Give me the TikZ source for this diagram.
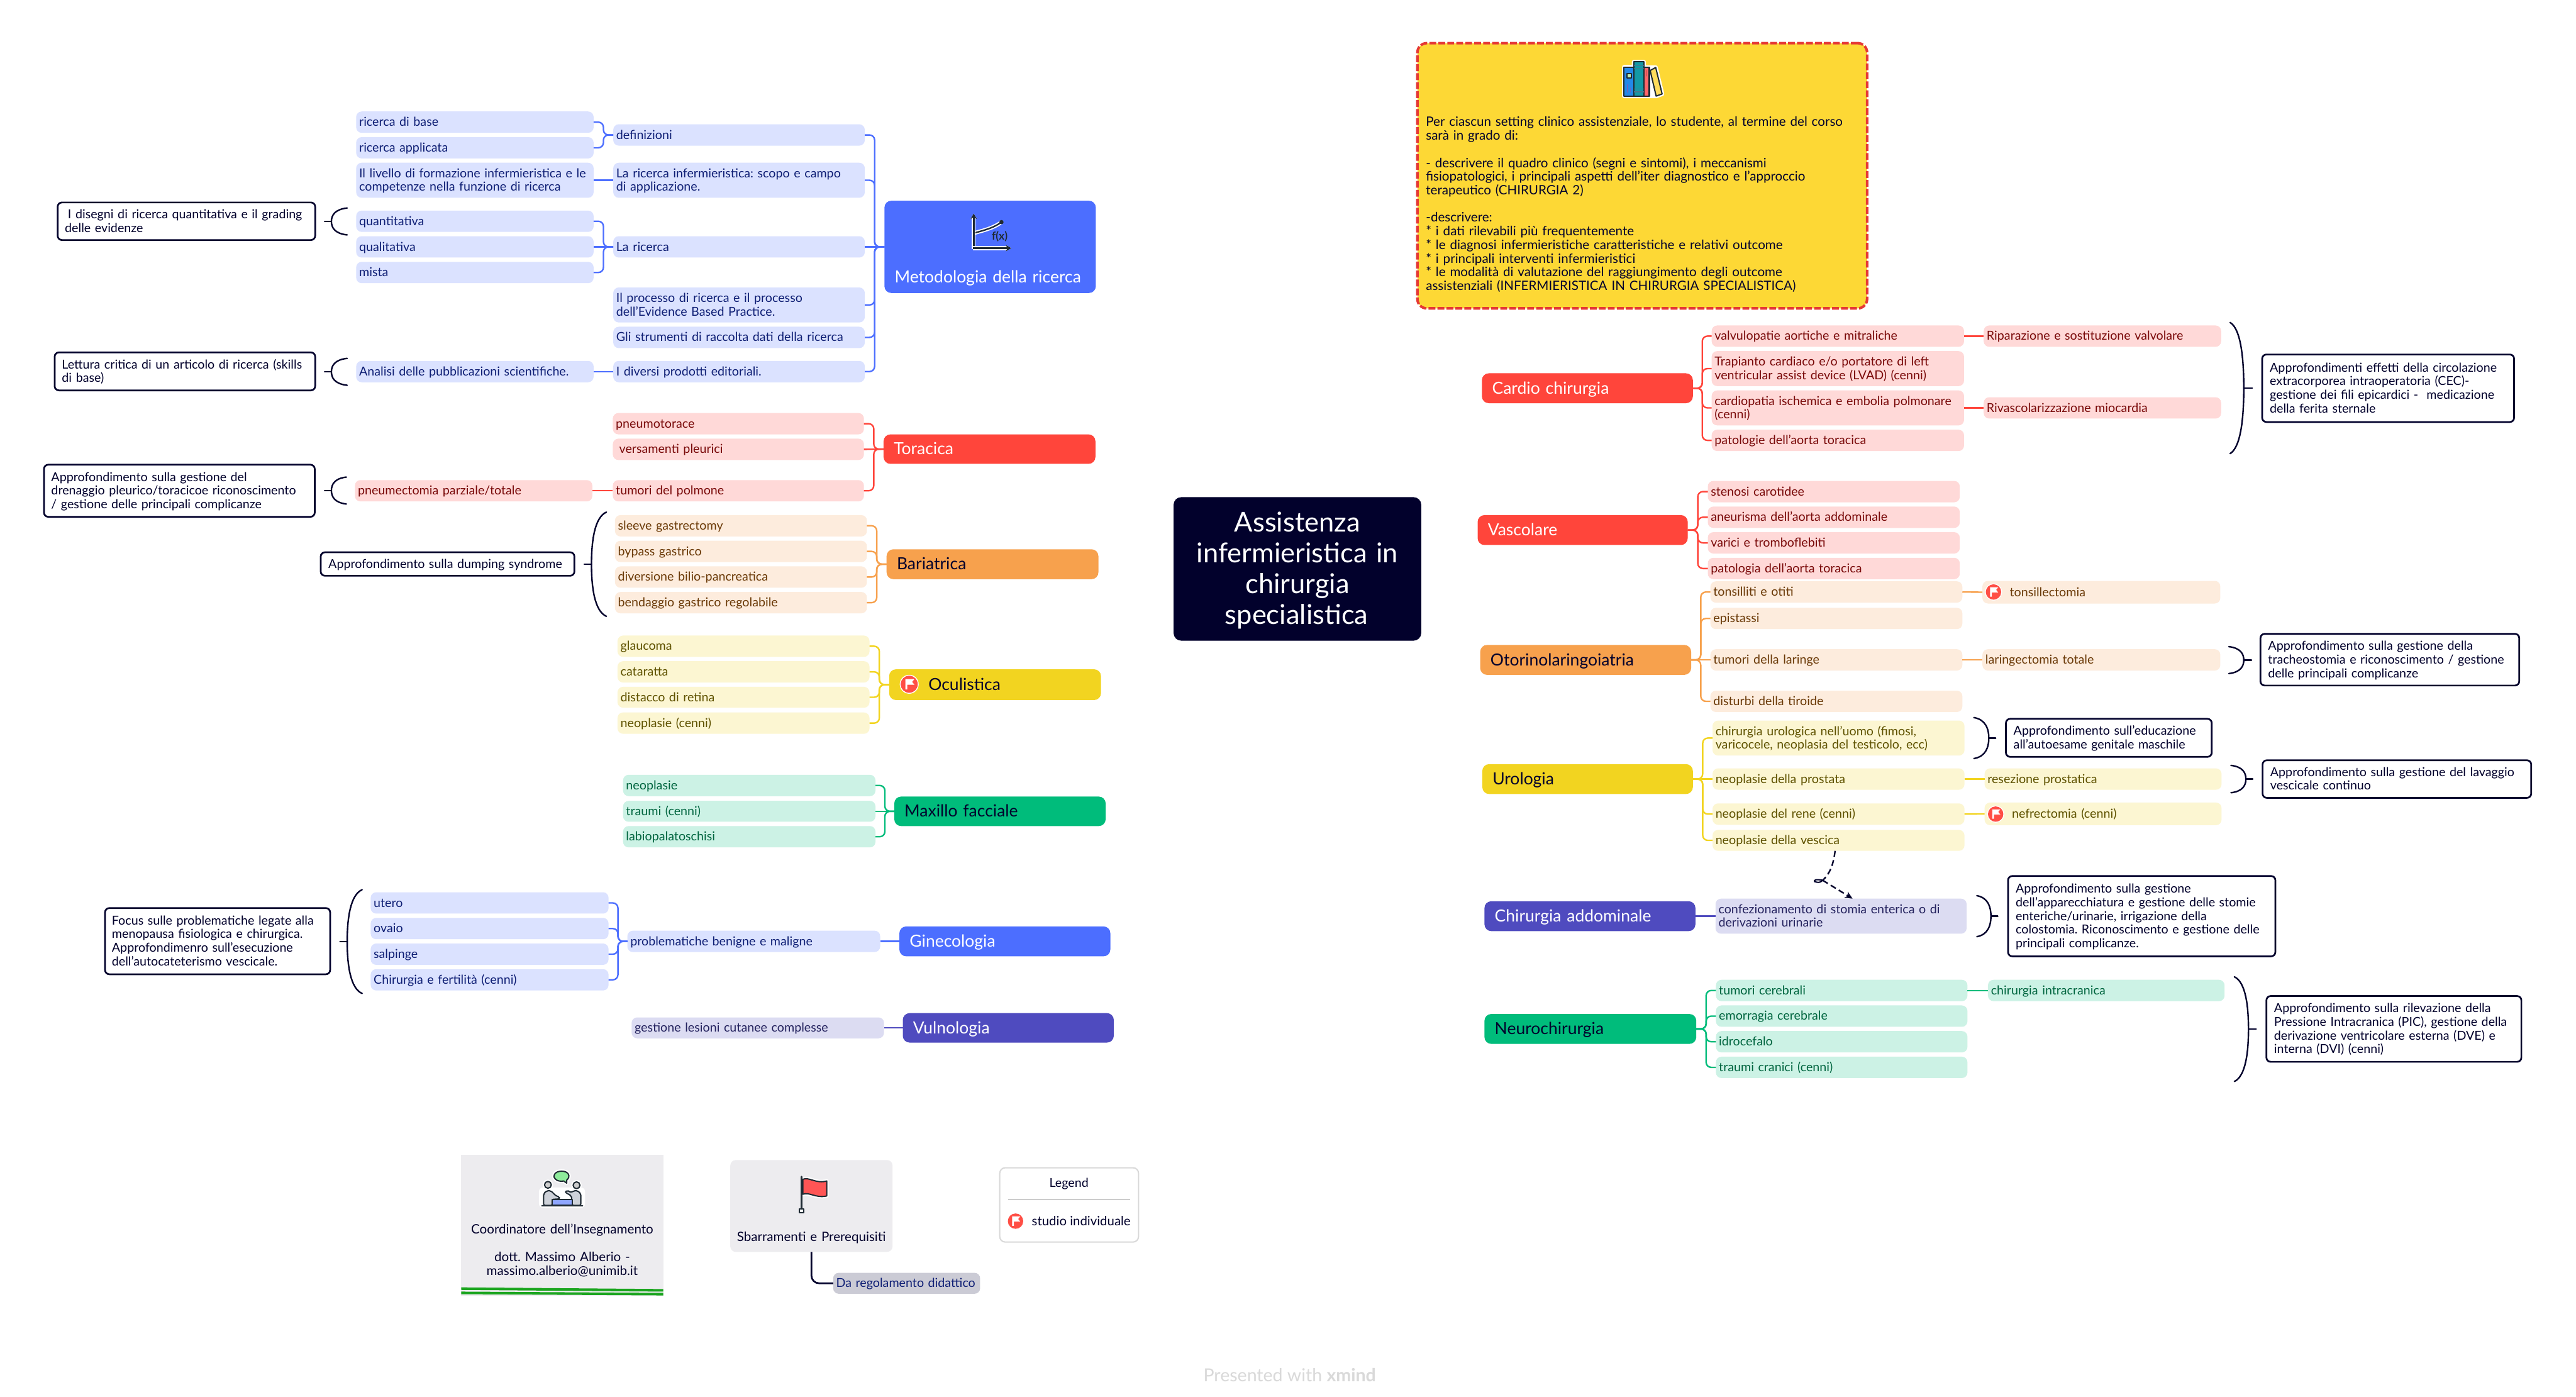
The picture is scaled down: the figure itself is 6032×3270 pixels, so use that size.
\documentclass[tikz,border=0pt]{standalone}
\usepackage{fontspec}
\setmainfont{Lato}
\usetikzlibrary{calc,arrows.meta}
\pgfdeclarelayer{bg}\pgfsetlayers{bg,main}
\definecolor{cBlue}{HTML}{4C6EFF}\definecolor{lBlue}{HTML}{DBE2FF}\definecolor{tBlue}{HTML}{0F1F75}
\definecolor{cRed}{HTML}{FF453B}\definecolor{lRed}{HTML}{FFD9D8}\definecolor{tRed}{HTML}{7A0A0A}
\definecolor{cOra}{HTML}{F7A14D}\definecolor{lOra}{HTML}{FDECDD}\definecolor{tOra}{HTML}{6B3A08}
\definecolor{cYel}{HTML}{F2D420}\definecolor{lYel}{HTML}{FCF6D2}\definecolor{tYel}{HTML}{5F5200}
\definecolor{cGre}{HTML}{00BC7B}\definecolor{lGre}{HTML}{CCF2E5}\definecolor{tGre}{HTML}{00653F}
\definecolor{cInd}{HTML}{4F4BBF}\definecolor{lInd}{HTML}{DCDCF2}\definecolor{tInd}{HTML}{25235F}
\definecolor{navy}{HTML}{02012C}\definecolor{goldbg}{HTML}{FDD835}\definecolor{dashred}{HTML}{E53935}
\definecolor{greybg}{HTML}{EDECEF}\definecolor{icdark}{HTML}{1F2A33}\definecolor{stripe}{HTML}{1BA51F}
\definecolor{dargrey}{HTML}{CBCBD5}
\newcommand{\fs}[2]{\fontsize{#1}{#2}\selectfont\frenchspacing}
\newcommand{\mystrut}{\rule[-.2\baselineskip]{0pt}{\baselineskip}}
\tikzset{
 basen/.style={rounded corners=13pt,align=left,outer sep=0pt,font=\fs{29}{32}},
 sB/.style={basen,fill=lBlue,text=tBlue},sR/.style={basen,fill=lRed,text=tRed},
 sO/.style={basen,fill=lOra,text=tOra},sY/.style={basen,fill=lYel,text=tYel},
 sG/.style={basen,fill=lGre,text=tGre},sI/.style={basen,fill=lInd,text=tInd},
 branch/.style={rounded corners=16pt,align=left,outer sep=0pt,font=\fs{39}{44}},
 bB/.style={branch,fill=cBlue,text=white},bR/.style={branch,fill=cRed,text=white},
 bO/.style={branch,fill=cOra,text=navy},bY/.style={branch,fill=cYel,text=navy},
 bG/.style={branch,fill=cGre,text=navy},bI/.style={branch,fill=cInd,text=white},
 callout/.style={basen,rounded corners=10pt,fill=white,draw=navy,line width=4pt,text=navy},
 cnline/.style={line width=3.5pt,rounded corners=12pt},
 mainline/.style={line width=5.5pt},
 bracest/.style={navy,line width=3.5pt,line cap=round},
 icline/.style={icdark,line width=3pt,line join=round},
 halo/.style={preaction={draw=white,line width=9pt,line join=round}},
}
\newcommand{\ndn}[8][7]{%
 \pgfmathsetmacro\ndw{#6-#4}\pgfmathsetmacro\ndh{#7-#5}%
 \pgfmathsetmacro\ndt{#6-#4-2*#1}%
 \pgfmathsetmacro\ndx{(#4+#6)/2}\pgfmathsetmacro\ndy{(#5+#7)/2}%
 \node[#3,inner xsep=#1pt,inner ysep=0pt,minimum width=\ndw pt,minimum height=\ndh pt,text width=\ndt pt] (#2) at (\ndx,\ndy) {\mystrut #8\mystrut};%
}
\newcommand{\cn}[3]{%
 \path let \p1=(#2),\p2=(#3) in \pgfextra{\pgfmathsetmacro\cndy{abs(\y1-\y2)}\xdef\cnd{\cndy}};%
 \ifdim\cnd pt<2pt\relax
  \draw[#1,line width=3.5pt] (#2) -- (#3);%
 \else
  \path coordinate (mm) at ($(#2)!.5!(#3)$);\draw[#1,cnline] (#2) -- (mm|-#2) -- (mm|-#3) -- (#3);%
 \fi}
\newcommand{\mainc}[5]{\begin{pgfonlayer}{bg}\draw[#1,mainline] (#2) .. controls #3 and #4 .. ([shift={#5}]root.center);\end{pgfonlayer}}
\newcommand{\sbrace}[5]{%
 \pgfmathsetmacro\bmid{(#4+#5)/2}\pgfmathsetmacro\bh{#5-#4}%
 \pgfmathsetmacro\bcx{#2-0.2*(#2-#1)}\pgfmathsetmacro\bya{#4+0.05*\bh}\pgfmathsetmacro\byb{#4+0.28*\bh}%
 \pgfmathsetmacro\byc{#5-0.28*\bh}\pgfmathsetmacro\byd{#5-0.05*\bh}%
 \draw[bracest] (#1,#4) .. controls (\bcx,\bya) and (#2,\byb) .. (#2,\bmid) .. controls (#2,\byc) and (\bcx,\byd) .. (#1,#5);
 \draw[bracest] (#2,\bmid) -- (#3,\bmid);}
\newcommand{\flagic}[3]{%
 \begin{scope}[shift={(#1,#2)},scale=#3/18]
 \fill[white] (0,0) circle (20);\fill[cRed!95!white] (0,0) circle (18);
 \fill[white] (-8,-11) -- (11,-11) -- (6,-5) -- (11,1) -- (-4,1) -- (-4,11) -- (-8,11) -- cycle;
 \end{scope}}
\begin{document}
\begin{tikzpicture}[x=1pt,y=-1pt]
\useasboundingbox (0,0) rectangle (6032,3270);
\fill[white] (0,0) rectangle (6032,3270);
% ROOT
\ndn{root}{rounded corners=18pt,fill=navy,text=white,align=center,font=\fs{64}{72},outer sep=0pt}{2748}{1164}{3328}{1500}{Assistenza\hspace*{12pt}\\infermieristica in\hspace*{12pt}\\chirurgia\hspace*{12pt}\\specialistica\hspace*{4pt}}
% BRANCHES
\ndn[24]{met}{bB}{2071}{470}{2566}{686}{\rule{0pt}{176pt}Metodologia della ricerca}
\ndn[24]{tor}{bR}{2069}{1017}{2565}{1086}{Toracica}
\ndn[24]{bar}{bO}{2076}{1286}{2572}{1356}{Bariatrica}
\ndn[92]{ocu}{bY}{2082}{1567}{2578}{1639}{Oculistica}
\ndn[24]{max}{bG}{2094}{1865}{2589}{1934}{Maxillo facciale}
\ndn[24]{gin}{bB}{2106}{2169}{2600}{2239}{Ginecologia}
\ndn[24]{vul}{bI}{2114}{2372}{2608}{2441}{Vulnologia}
\ndn[24]{car}{bR}{3470}{874}{3964}{944}{Cardio chirurgia}
\ndn[24]{vas}{bR}{3460}{1206}{3952}{1276}{Vascolare}
\ndn[24]{oto}{bO}{3466}{1510}{3960}{1580}{Otorinolaringoiatria}
\ndn[24]{uro}{bY}{3471}{1789}{3964}{1859}{Urologia}
\ndn[24]{chi}{bI}{3476}{2110}{3970}{2180}{Chirurgia addominale}
\ndn[24]{neu}{bG}{3476}{2374}{3972}{2444}{Neurochirurgia}
% MAIN CURVES
\mainc{cBlue}{met.east}{(2760,578)}{(2925,830)}{(-53,-132)}
\mainc{cRed}{tor.east}{(2680,1052)}{(2800,1110)}{(-158,-122)}
\mainc{cOra}{bar.east}{(2640,1320)}{(2700,1323)}{(-268,-9)}
\mainc{cYel}{ocu.east}{(2700,1602)}{(2800,1550)}{(-178,143)}
\mainc{cGre}{max.east}{(2791,1899)}{(2925,1700)}{(-73,148)}
\mainc{cBlue}{gin.east}{(2821,2204)}{(2951,1850)}{(-42,148)}
\mainc{cInd}{vul.east}{(2830,2406)}{(2960,1950)}{(-33,148)}
\mainc{cRed}{car.west}{(3320,908)}{(3190,1020)}{(97,-132)}
\mainc{cRed}{vas.west}{(3400,1241)}{(3350,1248)}{(262,-67)}
\mainc{cOra}{oto.west}{(3390,1544)}{(3330,1525)}{(252,153)}
\mainc{cYel}{uro.west}{(3310,1823)}{(3175,1680)}{(82,148)}
\mainc{cInd}{chi.west}{(3270,2145)}{(3135,1830)}{(47,148)}
\mainc{cGre}{neu.west}{(3260,2408)}{(3118,1990)}{(34,148)}
% METODOLOGIA
\ndn{def}{sB}{1436}{291}{2025}{341}{definizioni}
\ndn{ribase}{sB}{834}{261}{1390}{311}{ricerca di base}
\ndn{riappl}{sB}{834}{321}{1390}{371}{ricerca applicata}
\ndn{riinf}{sB}{1436}{381}{2025}{463}{La ricerca infermieristica: scopo e campo\\di applicazione.}
\ndn{livello}{sB}{834}{381}{1390}{463}{Il livello di formazione infermieristica e le\\competenze nella funzione di ricerca}
\ndn{quant}{sB}{834}{493}{1390}{543}{quantitativa}
\ndn{qual}{sB}{834}{553}{1390}{603}{qualitativa}
\ndn{mista}{sB}{834}{613}{1390}{663}{mista}
\ndn{laric}{sB}{1436}{553}{2025}{603}{La ricerca}
\ndn{proc}{sB}{1436}{673}{2025}{755}{Il processo di ricerca e il processo\\dell'Evidence Based Practice.}
\ndn{strum}{sB}{1436}{765}{2025}{815}{Gli strumenti di raccolta dati della ricerca}
\ndn{divers}{sB}{1436}{845}{2025}{895}{I diversi prodotti editoriali.}
\ndn{analisi}{sB}{834}{845}{1390}{895}{Analisi delle pubblicazioni scientifiche.}
\foreach \c in {def,riinf,laric,proc,strum,divers}{\cn{cBlue}{met.west}{\c.east}}
\foreach \c in {ribase,riappl}{\cn{cBlue}{def.west}{\c.east}}
\cn{cBlue}{riinf.west}{livello.east}
\foreach \c in {quant,qual,mista}{\cn{cBlue}{laric.west}{\c.east}}
\cn{cBlue}{divers.west}{analisi.east}
\ndn[17]{co1}{callout}{135}{474}{738}{562}{\hspace{7pt}I disegni di ricerca quantitativa e il grading\\delle evidenze}
\sbrace{813}{776}{760}{487}{550}
\ndn[17]{co2}{callout}{128}{825}{738}{914}{Lettura critica di un articolo di ricerca (skills\\di base)}
\sbrace{813}{776}{760}{839}{902}
% TORACICA
\ndn{pneu}{sR}{1435}{967}{2023}{1017}{pneumotorace}
\ndn{vers}{sR}{1435}{1027}{2023}{1077}{\hspace{8pt}versamenti pleurici}
\ndn{tumpol}{sR}{1435}{1124}{2023}{1174}{tumori del polmone}
\ndn{pnect}{sR}{831}{1124}{1387}{1174}{pneumectomia parziale/totale}
\foreach \c in {pneu,vers,tumpol}{\cn{cRed}{tor.west}{\c.east}}
\cn{cRed}{tumpol.west}{pnect.east}
\ndn[17]{co3}{callout}{103}{1088}{737}{1210}{Approfondimento sulla gestione del\\drenaggio pleurico/toracicoe riconoscimento\\/ gestione delle principali complicanze}
\sbrace{811}{776}{760}{1117}{1180}
% BARIATRICA
\ndn{sle}{sO}{1440}{1206}{2030}{1256}{sleeve gastrectomy}
\ndn{byp}{sO}{1440}{1266}{2030}{1316}{bypass gastrico}
\ndn{div}{sO}{1440}{1326}{2030}{1376}{diversione bilio-pancreatica}
\ndn{ben}{sO}{1440}{1386}{2030}{1436}{bendaggio gastrico regolabile}
\foreach \c in {sle,byp,div,ben}{\cn{cOra}{bar.west}{\c.east}}
\ndn[18]{co4}{callout}{751}{1293}{1345}{1348}{Approfondimento sulla dumping syndrome}
\sbrace{1420}{1385}{1368}{1199}{1443}
% OCULISTICA
\ndn{gla}{sY}{1446}{1488}{2036}{1538}{glaucoma}
\ndn{cat}{sY}{1446}{1548}{2036}{1598}{cataratta}
\ndn{dis}{sY}{1446}{1608}{2036}{1657}{distacco di retina}
\ndn{neo}{sY}{1446}{1668}{2036}{1718}{neoplasie (cenni)}
\foreach \c in {gla,cat,dis,neo}{\cn{cYel}{ocu.west}{\c.east}}
\flagic{2129}{1602}{20}
% MAXILLO
\ndn{mneo}{sG}{1459}{1814}{2050}{1864}{neoplasie}
\ndn{mtra}{sG}{1459}{1875}{2050}{1924}{traumi (cenni)}
\ndn{mlab}{sG}{1459}{1934}{2050}{1984}{labiopalatoschisi}
\foreach \c in {mneo,mtra,mlab}{\cn{cGre}{max.west}{\c.east}}
% GINECOLOGIA
\ndn{prob}{sB}{1469}{2179}{2061}{2229}{problematiche benigne e maligne}
\ndn{ute}{sB}{868}{2089}{1425}{2139}{utero}
\ndn{ova}{sB}{868}{2149}{1425}{2199}{ovaio}
\ndn{sal}{sB}{868}{2209}{1425}{2259}{salpinge}
\ndn{cfe}{sB}{868}{2269}{1425}{2319}{Chirurgia e fertilità (cenni)}
\cn{cBlue}{gin.west}{prob.east}
\foreach \c in {ute,ova,sal,cfe}{\cn{cBlue}{prob.west}{\c.east}}
\ndn[16]{co5}{callout}{246}{2126}{773}{2281}{Focus sulle problematiche legate alla\\menopausa fisiologica e chirurgica.\\Approfondimenro sull'esecuzione\\dell'autocateterismo vescicale.}
\sbrace{848}{813}{796}{2083}{2326}
% VULNOLOGIA
\ndn{ges}{sI}{1479}{2382}{2070}{2431}{gestione lesioni cutanee complesse}
\cn{cInd}{vul.west}{ges.east}
% CARDIO
\ndn{val}{sR}{4008}{762}{4599}{812}{valvulopatie aortiche e mitraliche}
\ndn{tra}{sR}{4008}{822}{4599}{904}{Trapianto cardiaco e/o portatore di left\\ventricular assist device (LVAD) (cenni)}
\ndn{cap}{sR}{4008}{914}{4599}{996}{cardiopatia ischemica e embolia polmonare\\(cenni)}
\ndn{pat}{sR}{4008}{1006}{4599}{1056}{patologie dell'aorta toracica}
\ndn{rip}{sR}{4645}{762}{5201}{812}{Riparazione e sostituzione valvolare}
\ndn{riv}{sR}{4645}{930}{5201}{980}{Rivascolarizzazione miocardia}
\foreach \c in {val,tra,cap,pat}{\cn{cRed}{car.east}{\c.west}}
\cn{cRed}{val.east}{rip.west}
\cn{cRed}{cap.east}{riv.west}
\sbrace{5222}{5254}{5274}{755}{1062}
\ndn[18]{co6}{callout}{5297}{830}{5887}{988}{Approfondimenti effetti della circolazione\\extracorporea intraoperatoria (CEC)-\\gestione dei fili epicardici -\ \ medicazione\\della ferita sternale}
% VASCOLARE
\ndn{ste}{sR}{3999}{1126}{4589}{1176}{stenosi carotidee}
\ndn{ane}{sR}{3999}{1186}{4589}{1236}{aneurisma dell'aorta addominale}
\ndn{vari}{sR}{3999}{1246}{4589}{1296}{varici e tromboflebiti}
\ndn{paa}{sR}{3999}{1306}{4589}{1356}{patologia dell'aorta toracica}
\foreach \c in {ste,ane,vari,paa}{\cn{cRed}{vas.east}{\c.west}}
% OTORINO
\ndn{ton}{sO}{4005}{1361}{4595}{1411}{tonsilliti e otiti}
\ndn{epi}{sO}{4005}{1423}{4595}{1473}{epistassi}
\ndn{tla}{sO}{4005}{1520}{4595}{1570}{tumori della laringe}
\ndn{dti}{sO}{4005}{1617}{4595}{1667}{disturbi della tiroide}
\ndn[64]{tec}{sO}{4642}{1360}{5199}{1413}{tonsillectomia}
\ndn{lar}{sO}{4642}{1520}{5199}{1570}{laringectomia totale}
\foreach \c in {ton,epi,tla,dti}{\cn{cOra}{oto.east}{\c.west}}
\cn{cOra}{ton.east}{tec.west}
\cn{cOra}{tla.east}{lar.west}
\flagic{4668}{1386}{18}
\sbrace{5219}{5254}{5272}{1514}{1577}
\ndn[18]{co7}{callout}{5293}{1484}{5899}{1605}{Approfondimento sulla gestione della\\tracheostomia e riconoscimento / gestione\\delle principali complicanze}
% UROLOGIA
\ndn{uchi}{sY}{4010}{1687}{4600}{1769}{chirurgia urologica nell'uomo (fimosi,\\varicocele, neoplasia del testicolo, ecc)}
\ndn{upro}{sY}{4010}{1799}{4600}{1849}{neoplasie della prostata}
\ndn{uren}{sY}{4010}{1881}{4600}{1931}{neoplasie del rene (cenni)}
\ndn{uves}{sY}{4010}{1943}{4600}{1992}{neoplasie della vescica}
\ndn{ures}{sY}{4647}{1799}{5202}{1849}{resezione prostatica}
\ndn[64]{unef}{sY}{4647}{1879}{5202}{1932}{nefrectomia (cenni)}
\foreach \c in {uchi,upro,uren,uves}{\cn{cYel}{uro.east}{\c.west}}
\cn{cYel}{upro.east}{ures.west}
\cn{cYel}{uren.east}{unef.west}
\flagic{4673}{1906}{18}
\sbrace{4622}{4657}{4673}{1680}{1776}
\ndn[18]{co8}{callout}{4697}{1683}{5179}{1772}{Approfondimento sull'educazione\\all'autoesame genitale maschile}
\sbrace{5224}{5259}{5275}{1792}{1856}
\ndn[18]{co9}{callout}{5298}{1780}{5927}{1868}{Approfondimento sulla gestione del lavaggio\\vescicale continuo}
% CHIRURGIA ADDOMINALE
\ndn{conf}{sI}{4017}{2104}{4605}{2186}{confezionamento di stomia enterica o di\\derivazioni urinarie}
\cn{cInd}{chi.east}{conf.west}
\sbrace{4629}{4662}{4678}{2097}{2193}
\ndn[18]{co10}{callout}{4702}{2051}{5328}{2239}{Approfondimento sulla gestione\\dell'apparecchiatura e gestione delle stomie\\enteriche/urinarie, irrigazione della\\colostomia. Riconoscimento e gestione delle\\principali complicanze.}
% dashed relation
\coordinate (kink) at (4268,2061);
\draw[navy,line width=3.5pt,dash pattern=on 14pt off 8pt] ([xshift=-8pt]uves.south) .. controls (4293,2025) and (4285,2045) .. (kink);
\draw[navy,line width=3pt] (kink) .. controls (4262,2068) and (4255,2066) .. (4249,2064) .. controls (4246,2060) and (4254,2058) .. (kink);
\draw[navy,line width=3.5pt,dash pattern=on 14pt off 8pt,-{Stealth[length=18pt,width=16pt]}] (kink) -- ([xshift=27pt]conf.north);
% NEURO
\ndn{ntu}{sG}{4018}{2294}{4607}{2344}{tumori cerebrali}
\ndn{nem}{sG}{4018}{2354}{4607}{2404}{emorragia cerebrale}
\ndn{nid}{sG}{4018}{2414}{4607}{2464}{idrocefalo}
\ndn{ntr}{sG}{4018}{2474}{4607}{2524}{traumi cranici (cenni)}
\ndn{nch}{sG}{4655}{2294}{5209}{2344}{chirurgia intracranica}
\foreach \c in {ntu,nem,nid,ntr}{\cn{cGre}{neu.east}{\c.west}}
\cn{cGre}{ntu.east}{nch.west}
\sbrace{5232}{5265}{5283}{2287}{2532}
\ndn[18]{co11}{callout}{5307}{2332}{5904}{2486}{Approfondimento sulla rilevazione della\\Pressione Intracranica (PIC), gestione della\\derivazione ventricolare esterna (DVE) e\\interna (DVI) (cenni)}
% YELLOW OBJECTIVES
\ndn[20]{obj}{fill=goldbg,draw=dashred,line width=6pt,dash pattern=on 16pt off 5pt,rounded corners=22pt,align=left,font=\fs{30.3}{32},text=navy,outer sep=0pt}{3319}{101}{4372}{722}{\rule{0pt}{159pt}Per ciascun setting clinico assistenziale, lo studente, al termine del corso\\sarà in grado di:\\\mbox{}\\- descrivere il quadro clinico (segni e sintomi), i meccanismi\\fisiopatologici, i principali aspetti dell'iter diagnostico e l'approccio\\terapeutico (CHIRURGIA 2)\\\mbox{}\\-descrivere:\\{}* i dati rilevabili più frequentemente\\{}* le diagnosi infermieristiche caratteristiche e relativi outcome\\{}* i principali interventi infermieristici\\{}* le modalità di valutazione del raggiungimento degli outcome\\assistenziali (INFERMIERISTICA IN CHIRURGIA SPECIALISTICA)}
% BOTTOM
\ndn{coord}{fill=greybg,align=center,font=\fs{30.3}{32},text=navy,outer sep=0pt}{1080}{2704}{1553}{3033}{\rule{0pt}{144pt}Coordinatore dell'Insegnamento\\\mbox{}\\dott. Massimo Alberio -\\massimo.alberio@unimib.it}
\draw[stripe,line width=6pt] (coord.south west)++(0,-16) -- ++(473,4);
\draw[stripe,line width=6pt] (coord.south west)++(0,-6) -- ++(473,3);
\ndn{sbar}{rounded corners=13pt,fill=greybg,align=center,font=\fs{30.3}{32},text=navy,outer sep=0pt}{1710}{2716}{2090}{2931}{\rule{0pt}{171pt}Sbarramenti e Prerequisiti}
\ndn{dareg}{rounded corners=13pt,fill=dargrey,align=left,font=\fs{29}{32},text=tBlue,outer sep=0pt}{1951}{2980}{2295}{3029}{Da regolamento didattico}
\draw[navy,line width=4pt,rounded corners=18pt] (sbar.south) |- (dareg.west);
\node[draw=black!15,line width=3pt,rounded corners=13pt,minimum width=325pt,minimum height=174pt,inner sep=0pt] (leg) at (2503.5,2821) {};
\node[font=\fs{29}{32},text=navy] (legt) at (2503,2772) {Legend};
\draw[black!20,line width=3pt] (2361,2809) -- (2646,2809);
\node[font=\fs{30}{32},text=navy,anchor=west,inner sep=0pt] (legi) at (2416,2859) {studio individuale};
\flagic{2378}{2859}{18}
\node[font=\fs{42}{46},text=black!15] (brand) at (3020,3219) {Presented with \textbf{xmind}};
% ICON graph
\begin{scope}
\draw[white,line width=9pt,line cap=round] (2345,520) .. controls (2325,535) and (2300,540) .. (2280,546);
\draw[icdark,line width=3.5pt] (2345,520) .. controls (2325,535) and (2300,540) .. (2280,546);
\fill[icdark] (2345,520) circle (5);
\draw[icdark,line width=5pt,-{Stealth[length=13pt,width=15pt]},halo] (2280,583) -- (2280,500);
\draw[icdark,line width=5pt,-{Stealth[length=13pt,width=15pt]},halo] (2278,581) -- (2368,581);
\node[font=\fs{26}{30}\bfseries,text=icdark,inner sep=0pt] (fx) at (2341,554) {f(x)};
\end{scope}
% ICON books
\begin{scope}
\draw[white,line width=10pt,line join=round,fill=white] (3803,157) -- (3826,157) -- (3826,145) -- (3849,145) -- (3849,158) -- (3863,158) -- (3877,158) -- (3892,220) -- (3878,225) -- (3803,225) -- cycle;
\draw[icline,fill={rgb,255:red,35;green,137;blue,232}] (3803,157) rectangle (3826,225);
\draw[icline,fill={rgb,255:red,19;green,153;blue,166}] (3826,145) rectangle (3849,225);
\draw[icline,fill={rgb,255:red,255;green,102;blue,105}] (3849,158) rectangle (3862,225);
\draw[icline,fill={rgb,255:red,255;green,220;blue,92}] (3864,165) -- (3877,158) -- (3892,220) -- (3878,225) -- cycle;
\draw[icline,fill={rgb,255:red,191;green,240;blue,176}] (3810,173) rectangle (3820,182);
\draw[cyan!50!black,line width=2pt] (3826,154) -- (3849,154) (3826,160) -- (3849,160) (3826,208) -- (3849,208) (3826,215) -- (3849,215);
\draw[red!60!black!70!white,line width=2pt,line cap=round] (3856,165) -- (3856,178);
\draw[blue!60!black!60!white,line width=2pt,line cap=round] (3811,198) -- (3811,216) (3818,206) -- (3818,216);
\end{scope}
% ICON people
\begin{scope}
\fill[white,rounded corners=10pt] (1262,2780) rectangle (1370,2828);
\draw[icline,fill={rgb,255:red,142;green,235;blue,155},halo] (1327,2770) -- (1327,2763) .. controls (1337,2755) and (1332,2742) .. (1315,2742) .. controls (1298,2742) and (1293,2755) .. (1300,2760) .. controls (1305,2766) and (1314,2766) .. (1320,2765) -- cycle;
\draw[icline,fill=black!20,halo] (1283,2774) circle (8);
\draw[icline,fill=black!20,halo] (1350,2775) circle (8);
\draw[icline,fill={rgb,255:red,206;green,210;blue,217},rounded corners=3pt] (1273,2822) -- (1273,2795) -- (1280,2788) -- (1290,2788) -- (1302,2800) -- (1310,2802) -- (1310,2807) -- (1293,2808) -- (1293,2822) -- cycle;
\draw[icline,fill={rgb,255:red,206;green,210;blue,217},rounded corners=3pt] (1360,2822) -- (1360,2795) -- (1353,2788) -- (1343,2788) -- (1338,2792) -- (1328,2787) -- (1323,2791) -- (1338,2800) -- (1340,2822) -- cycle;
\draw[icline,fill={rgb,255:red,143;green,166;blue,255}] (1293,2808) rectangle (1340,2822);
\draw[icdark,line width=4pt,line cap=round] (1269,2823) -- (1364,2823);
\end{scope}
% ICON flag
\begin{scope}
\draw[icline,fill={rgb,255:red,255;green,85;blue,85},halo] (1880,2761) .. controls (1895,2755) and (1910,2772) .. (1936,2765) -- (1936,2800) .. controls (1910,2806) and (1895,2790) .. (1880,2796) -- cycle;
\draw[icdark,line width=4pt,line cap=round] (1877,2755) -- (1877,2830);
\draw[icline,fill=white] (1872,2830) rectangle (1882,2839);
\end{scope}
\end{tikzpicture}
\end{document}
